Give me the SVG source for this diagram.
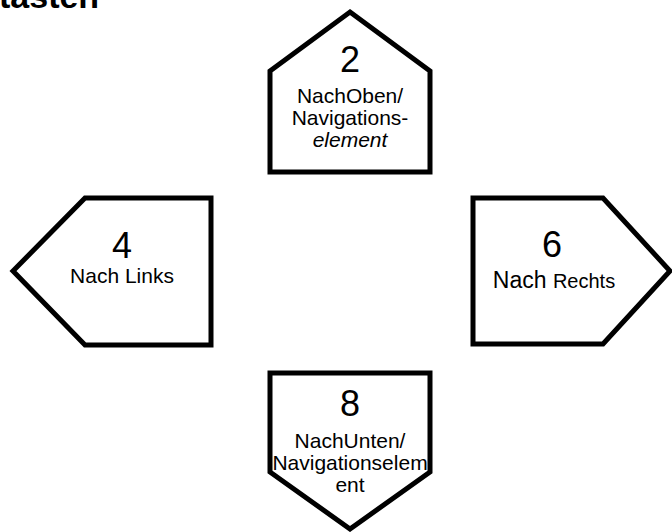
<svg xmlns="http://www.w3.org/2000/svg" width="672" height="532" viewBox="0 0 672 532">
<style>
.shape{fill:#fff;stroke:#000;stroke-width:5;stroke-linejoin:miter}
text{font-family:"Liberation Sans",Arial,sans-serif;fill:#000;text-anchor:middle}
.num{font-size:36px}
.lbl{font-size:21px}
.title{font-size:34px;font-weight:bold;text-anchor:start}
</style>
<rect width="672" height="532" fill="#fff"/>
<text class="title" x="-1" y="8">tasten</text>
<g id="connectors"></g>
<g id="node-up">
<path class="shape" d="M350,12 L430,71 L430,172 L270,172 L270,71 Z"/>
<text class="num" x="350" y="72">2</text>
<text class="lbl" x="350" y="103">NachOben/</text>
<text class="lbl" x="350" y="125">Navigations-</text>
<text class="lbl" x="350" y="147" font-style="italic">element</text>
</g>
<g id="node-left">
<path class="shape" d="M13,271 L85,198 L211,198 L211,345 L85,345 Z"/>
<text class="num" x="122" y="258">4</text>
<text class="lbl" x="122" y="283" font-size="20">Nach Links</text>
</g>
<g id="node-right">
<path class="shape" d="M473,198 L603,198 L670,271 L603,344 L473,344 Z"/>
<text class="num" x="552" y="257">6</text>
<text x="554" y="288"><tspan font-size="23">Nach </tspan><tspan font-size="20">Rechts</tspan></text>
</g>
<g id="node-down">
<path class="shape" d="M270,373 L430,373 L430,472 L350,529 L270,472 Z"/>
<text class="num" x="350" y="416">8</text>
<text class="lbl" x="350" y="448">NachUnten/</text>
<text class="lbl" x="350" y="470">Navigationselem</text>
<text class="lbl" x="350" y="492">ent</text>
</g>
</svg>
